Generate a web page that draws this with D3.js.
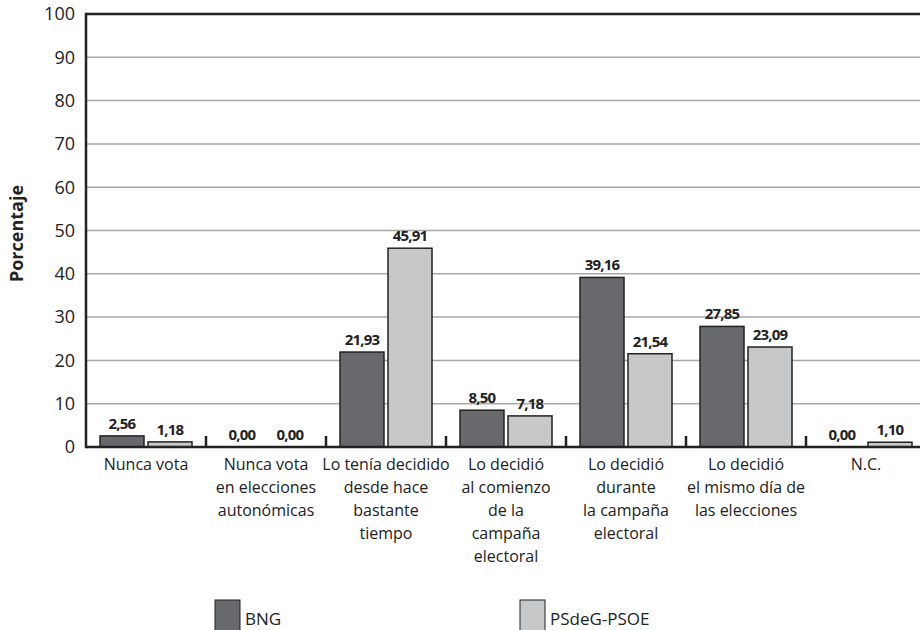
<!DOCTYPE html>
<html>
<head>
<meta charset="utf-8">
<script src="https://cdn.jsdelivr.net/npm/d3@7"></script>
<style>
  body { margin: 0; background: #fff; }
  svg { display: block; }
</style>
</head>
<body>
<div id="chart"></div>
<script>
const categories = [
  'Nunca vota',
  'Nunca vota\nen elecciones\nautonómicas',
  'Lo tenía decidido\ndesde hace\nbastante\ntiempo',
  'Lo decidió\nal comienzo\nde la\ncampaña\nelectoral',
  'Lo decidió\ndurante\nla campaña\nelectoral',
  'Lo decidió\nel mismo día de\nlas elecciones',
  'N.C.'
];
const seriesNames = ['BNG', 'PSdeG-PSOE'];
const bng = [2.56, 0.00, 21.93, 8.50, 39.16, 27.85, 0.00];
const psoe = [1.18, 0.00, 45.91, 7.18, 21.54, 23.09, 1.10];
const yTicks = [0, 10, 20, 30, 40, 50, 60, 70, 80, 90, 100];

const width = 920, height = 630;
const margin = { top: 14, left: 86, bottom: 183 };
const colors = ['#68696c', '#c7c8ca'];
const textFont = '"Open Sans", "Noto Sans", sans-serif';

const svg = d3.select('#chart').append('svg')
  .attr('width', width)
  .attr('height', height);

const x = d3.scaleBand()
  .domain(categories.map((d, i) => i))
  .range([margin.left, margin.left + 120 * categories.length]);

const x1 = d3.scaleBand()
  .domain([0, 1])
  .range([14, 106])
  .paddingInner(4 / 48);

const y = d3.scaleLinear()
  .domain([0, 100])
  .range([height - margin.bottom, margin.top]);

// grid lines
svg.append('g')
  .selectAll('line')
  .data(yTicks.filter(d => d > 0 && d < 100))
  .join('line')
  .attr('x1', margin.left)
  .attr('x2', width)
  .attr('y1', d => y(d))
  .attr('y2', d => y(d))
  .attr('stroke', '#a9a9a9')
  .attr('stroke-width', 1.5);

// top border
svg.append('line')
  .attr('x1', margin.left).attr('x2', width)
  .attr('y1', y(100)).attr('y2', y(100))
  .attr('stroke', '#222').attr('stroke-width', 2.5);

// y tick labels
svg.append('g')
  .selectAll('text')
  .data(yTicks)
  .join('text')
  .attr('x', 75)
  .attr('y', d => y(d))
  .attr('dy', '0.35em')
  .attr('text-anchor', 'end')
  .attr('font-family', textFont)
  .attr('font-size', 18)
  .attr('fill', '#222')
  .text(d => d);

svg.append('text')
  .attr('transform', `translate(23, ${(y(0) + y(100)) / 2 + 3}) rotate(-90)`)
  .attr('text-anchor', 'middle')
  .attr('font-family', textFont)
  .attr('font-weight', 'bold')
  .attr('font-size', 18)
  .attr('fill', '#222')
  .text('Porcentaje');

// bars
const series = [bng, psoe];
const groups = svg.append('g')
  .selectAll('g')
  .data(categories.map((c, i) => i))
  .join('g')
  .attr('transform', i => `translate(${x(i)},0)`);

groups.selectAll('rect')
  .data(i => series.map((s, k) => ({ k, v: s[i] })))
  .join('rect')
  .attr('x', d => x1(d.k))
  .attr('width', x1.bandwidth())
  .attr('y', d => y(d.v))
  .attr('height', d => y(0) - y(d.v))
  .attr('fill', d => colors[d.k])
  .attr('stroke', '#222')
  .attr('stroke-width', d => d.v > 0 ? 1.5 : 0);

groups.selectAll('text')
  .data(i => series.map((s, k) => ({ k, v: s[i] })))
  .join('text')
  .attr('x', d => x1(d.k) + x1.bandwidth() / 2)
  .attr('y', d => y(d.v) - 7)
  .attr('text-anchor', 'middle')
  .attr('font-family', textFont)
  .attr('font-weight', 'bold')
  .attr('font-size', 15)
  .attr('letter-spacing', -0.8)
  .attr('fill', '#222')
  .text(d => d3.format('.2f')(d.v).replace('.', ','));

// axes lines
svg.append('line')
  .attr('x1', margin.left).attr('x2', width)
  .attr('y1', y(0)).attr('y2', y(0))
  .attr('stroke', '#222').attr('stroke-width', 2.5);

svg.append('line')
  .attr('x1', margin.left).attr('x2', margin.left)
  .attr('y1', y(100) - 1.25).attr('y2', y(0) + 1.25)
  .attr('stroke', '#222').attr('stroke-width', 2.5);

// category boundary ticks
svg.append('g')
  .selectAll('line')
  .data(categories.map((c, i) => i).slice(1))
  .join('line')
  .attr('x1', i => x(i)).attr('x2', i => x(i))
  .attr('y1', y(0)).attr('y2', y(0) - 11)
  .attr('stroke', '#222').attr('stroke-width', 2.5);

// category labels
const catLabels = svg.append('g')
  .selectAll('text')
  .data(categories)
  .join('text')
  .attr('x', (d, i) => x(i) + x.bandwidth() / 2)
  .attr('y', y(0) + 23)
  .attr('text-anchor', 'middle')
  .attr('font-family', textFont)
  .attr('font-size', 16)
  .attr('fill', '#222');

catLabels.selectAll('tspan')
  .data(d => d.split('\n'))
  .join('tspan')
  .attr('x', function () { return this.parentNode.getAttribute('x'); })
  .attr('dy', (d, i) => i === 0 ? 0 : 23)
  .text(d => d);

// legend
const legendX = [215, 520];
const legend = svg.append('g')
  .selectAll('g')
  .data(seriesNames)
  .join('g')
  .attr('transform', (d, i) => `translate(${legendX[i]}, 600)`);

legend.append('rect')
  .attr('width', 25)
  .attr('height', 32)
  .attr('fill', (d, i) => colors[i])
  .attr('stroke', '#222')
  .attr('stroke-width', 1);

legend.append('text')
  .attr('x', 30)
  .attr('y', 25)
  .attr('font-family', textFont)
  .attr('font-size', 17)
  .attr('fill', '#222')
  .text(d => d);
</script>
</body>
</html>
